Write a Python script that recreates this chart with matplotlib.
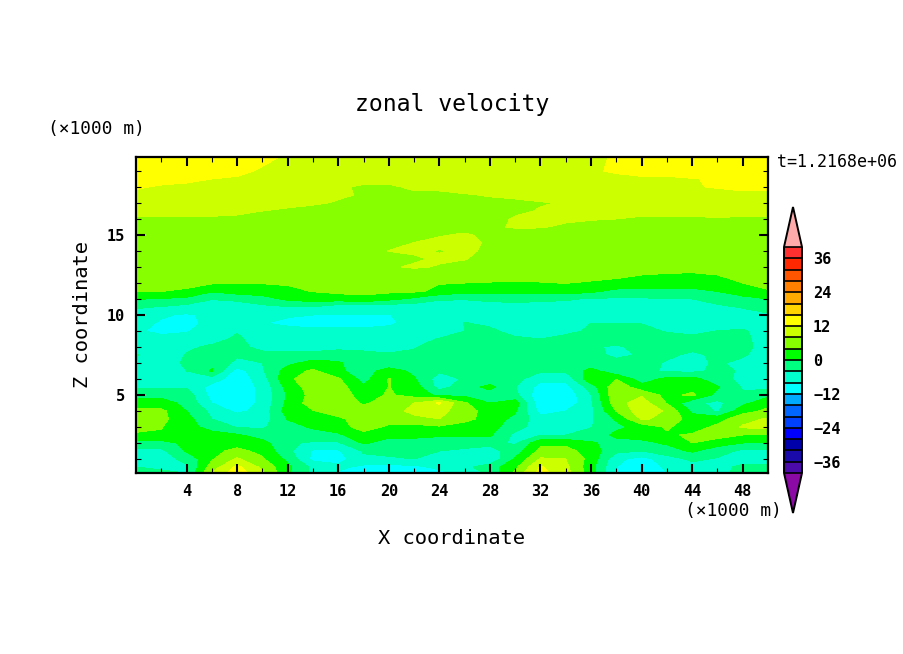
import matplotlib
matplotlib.use("Agg")
import matplotlib.pyplot as plt
from matplotlib.colors import ListedColormap, BoundaryNorm
import numpy as np

plt.rcParams["font.family"] = "DejaVu Sans Mono"

# grid of the field (x, z in 1000 m)
x_km = np.arange(0, 51, 2)
z_km = [0.125, 0.5, 1, 1.5, 2, 2.5, 3, 3.5, 4, 4.5, 5, 5.5, 6, 6.5, 7, 7.5, 8, 8.5, 9, 9.5,
        10, 10.5, 11, 11.5, 12, 12.5, 13, 13.5, 14, 14.5, 15, 15.5, 16, 16.5, 17, 17.5, 18, 18.5, 19, 19.875]

u_rows = [
    [-3, -3.5, -4, 8, 14.5, 8.5, 0.5, -5, -8.5, -10, -10, -10, -9, -7, -3, 5, 13.5, 9.5, 2, -9, -10, -8, -6, -5, -3, -3],
    [-4, -4.5, -4.5, 6, 13, 7, 1, -5, -7, -9, -9.5, -9, -7, -5, -2, 3, 12.5, 9, 1.5, -8, -10, -7.5, -6, -5.5, -3, -3],
    [-5, -5.5, -3, 3.5, 8.5, 4.5, -1, -9, -9.5, -5, -4.5, -4, -6, -6, -7, 0.5, 8.5, 8, 2.5, -7, -9.5, -6, -3, -4.5, -6, -6],
    [-5, -5, 0.5, 3, 5, 3, -3, -8.5, -8.5, -3.5, -3, -3, -4, -5, -5.5, -2, 5, 5.5, 2, -3, -4, -1.5, 0.5, -2, -5, -5],
    [-1.5, -1.5, 1, 2.5, 2.5, 1.5, -3.5, -4.5, -4.5, 0.5, -1.5, -1.5, -2, -2, -3, -4.5, 3, 3, 0.5, -1.5, -1, 0.5, 4, 1.5, 0, 0],
    [3.5, 3.5, 1.5, 1, 0.5, -2, -3, -1.5, -0.5, 2, 1, 1, 0.5, 0.5, 0.5, -5, -4, -4, -2.5, 1, 1.5, 3.5, 4.5, 6, 4, 4],
    [5, 4.2, 1, -1, -4.3, -4.5, -1.5, 0.5, 1.5, 6.5, 3, 2.5, 3.5, 1.5, 1.5, -2.5, -6, -6, -4.2, -1, 1.5, 4.5, 2, 5, 8.5, 9],
    [8, 5, 1.5, -4, -5.5, -6, 0.2, 1.5, 3, 6.5, 6.5, 7, 8, 5.5, 2, -1, -6.5, -6.5, -4.5, 0.5, 8.5, 7, 2, 2.5, 6.5, 8.5],
    [5.5, 5, 0, -5, -9, -6.5, 2, 3.8, 6.5, 5.5, 6.5, 9, 9.5, 5.5, 2.5, 0.5, -9.5, -8, -5, 4.2, 10.5, 7.5, -1, -4.5, 2.5, 5],
    [1.5, 1.5, -1, -8, -10.5, -7, 1, 6, 6.5, 3.5, 5.5, 8, 12.5, 4.5, 0, 2, -11, -11, -4.5, 6.5, 10, 3.8, -3, -5, -1, 2.5],
    [-1, -1, -1.8, -9.5, -10.5, -7, 0.5, 5.5, 6.5, 2, 4.5, 2.5, -1, -1, -2, -3, -11, -11, -4.2, 7.5, 7.5, 2.5, 5, -1.5, -3.5, -1],
    [-4.8, -4.8, -4.5, -9.5, -10.5, -7, 1.5, 6, 6, 0.5, 4.1, 2, -5.5, -2, 1.2, -3.8, -9.5, -9.5, -2, 7, 1.5, 2, 2, 0.5, -4.5, -5],
    [-5.5, -5.5, -4, -6, -10.5, -6, 3.5, 5.5, 4.5, -1.5, 4.2, 0.5, -6, -3.5, -3, -2.5, -7, -7, 3, 3.9, -2, 1, 1.5, -2.5, -5, -6],
    [-5, -5, -4, 0.5, -10, -4.5, 2, 4.7, 0.8, -2, 2, -1, -3.5, -3, -2.5, -2.5, -3.5, -3.5, 1.5, -3, -3, -4.5, -5, -3, -4.5, -5],
    [-4, -5.5, -3.5, -1, -5, -4, -1, 1.5, 0.5, -2.5, -3, -4, -2.8, -2.5, -2.5, -2, -2, -2, -2.5, -2.5, -2, -4.5, -5, -3.5, -5, -6],
    [-3.8, -6, -3.8, -3, -3.5, -3, -2.5, -2.5, -2.2, -3, -3.5, -3.5, -2.5, -2, -2.5, -2.5, -2.5, -2.5, -2.5, -5, -3.5, -3, -5, -3, -3.5, -6],
    [-6, -6.2, -4.5, -3.5, -3, -5, -6, -6, -5, -5, -5.5, -4.2, -3, -2.5, -2.5, -2.5, -2.5, -2.5, -3.5, -4.5, -3, -2.5, -2.5, -2.5, -3, -5.5],
    [-6.5, -7, -7, -5, -3.5, -5.5, -6.5, -6.5, -6.5, -6.5, -6.5, -5.5, -3.7, -3, -3, -3.5, -4, -3, -2.5, -2.5, -2.5, -3, -3, -3, -3.2, -5.5],
    [-7.5, -8.8, -8.2, -7, -4.2, -6.5, -6.5, -7, -7, -7, -7, -6.5, -6.5, -4, -3.5, -5, -5.5, -4.8, -3.5, -3, -3.2, -4.2, -5, -3.9, -3.5, -6],
    [-6.5, -8.5, -9, -7, -7.2, -7.8, -9, -9.5, -9.5, -9.5, -8.5, -7, -6.5, -3.9, -4.5, -6, -6, -5.5, -4, -4, -4.1, -5, -5, -6, -6, -6],
    [-6, -7.5, -8.5, -7, -7, -7, -7.5, -8, -8, -8.2, -8.1, -7, -7, -6.5, -6, -6, -6, -6, -6, -6, -6, -6, -6, -6, -5, -4.2],
    [-3.5, -4.2, -5.5, -6.5, -6.5, -5, -4.2, -4.2, -6.5, -6.5, -6.5, -6.5, -6.5, -6, -6, -6, -6, -6, -6, -6, -6, -6, -6, -4.5, -3.8, -3.4],
    [0.2, -0.3, -1, -3.8, -3, -1.5, 0.8, 2, 2, 3, 1, -1, -3.5, -3.8, -3, -2.5, -3, -3.5, -4.5, -4.5, -4.5, -4.2, -4, -3, -1.5, 0],
    [4.1, 4.1, 3.5, 0.5, 2, 2, 3, 4.2, 5, 5, 5, 4.8, 3, 1.5, 1.5, 1.5, 1.5, 2, 1, -1, -1, -1.2, -1, 0.2, 2.5, 3.8],
    [5, 5, 5, 4.5, 4.2, 4.2, 4.5, 5, 5, 5, 5, 4.5, 4.2, 4, 3.8, 3.6, 3.8, 4.1, 3.5, 3, 2.5, 2, 2, 3, 4, 4.8],
    [5.5] * 19 + [4.8, 4, 3.5, 3.2, 4, 5, 5.5],
    [6] * 10 + [7.5, 8.5, 7.7, 6.5, 6] + [6] * 11,
    [6] * 11 + [7.5, 8.5, 8.2, 6.5] + [6] * 11,
    [6] * 10 + [8.1, 8.5, 7.8, 8.5, 7.5] + [6.5] * 11,
    [6] * 10 + [6.7, 8.1, 9, 9, 7.5] + [6.5] * 11,
    [6] * 11 + [6.5, 7.7, 8.5, 7] + [6.5] * 11,
    [6.5] * 14 + [7.5, 8.3, 8.2, 7.5] + [6.5] * 8,
    [7.5, 7.5, 7.5, 7.5, 7.3, 7, 6.8, 6.5, 6.5, 6.5, 6.5, 6.5, 6.5, 6.5, 7, 8.3, 8.5, 8.5, 8.3, 8, 7.5, 7.5, 7.5, 7.8, 7.5, 7.5],
    [9.5, 9.5, 9, 9, 8.7, 8, 7.5, 7.2, 7, 6.8, 6.5, 6.5, 6.5, 6.5, 7, 7.5, 8.2, 9, 9, 9, 9, 9, 9, 9, 9, 9],
    [10, 10, 9.5, 9.5, 9, 9, 8.8, 8.3, 7.8, 7.5, 7, 7, 7, 7, 7.3, 7.5, 7.8, 8.2, 8.8, 9, 9.5, 10, 10, 10, 10, 10],
    [11, 10.5, 10, 10, 9.5, 9, 8.8, 8.5, 8.3, 7.8, 7.5, 7.5, 7.5, 7.8, 8.2, 8.5, 9, 9.5, 9.5, 10, 10, 10.5, 10.5, 11, 11, 11],
    [12.5, 11.5, 11, 10.5, 10, 9.5, 9, 9, 8.5, 7.5, 7.5, 8.5, 8.5, 9, 9, 9, 9, 9.5, 10, 10.5, 11, 11.5, 11.8, 12.2, 13, 13],
    [14, 13.5, 13, 12, 11.5, 11, 10.5, 10, 9.5, 9, 9, 9, 9, 9, 9, 9, 9.5, 10, 10.5, 11, 11.5, 11.5, 11.8, 12.5, 13, 13.5],
    [15, 14.5, 14, 13.5, 13, 11.5, 11, 10.5, 10.5, 10, 10, 10, 10, 10, 10, 10, 10.5, 11, 11.5, 12.5, 13, 13, 14, 14, 14.5, 15],
    [15, 15, 14, 14, 14, 13, 11.5, 11, 11, 11, 11, 11, 11, 11, 11, 11, 11, 11, 11, 12.5, 14, 14, 14, 15, 15, 15],
]

levels = np.arange(-40, 41, 4)
colors = ["#4b0aaa", "#1a0aaa", "#0000aa", "#0000ff", "#0040ff", "#0066ff", "#00aaff", "#00ffff",
          "#00ffcc", "#00ff80", "#00ff00", "#88ff00", "#ccff00", "#ffff00", "#ffd500", "#ffaa00",
          "#ff8000", "#ff5500", "#ff2800", "#ff3030"]
x_ticks = list(range(4, 49, 4))
z_ticks = [5, 10, 15]
cbar_ticks = [-36, -24, -12, 0, 12, 24, 36]
W, H = 904, 654


def fx(px):
    return px / W


def fy(py):
    return 1 - py / H


fig = plt.figure(figsize=(W / 100, H / 100), dpi=100)
ax = fig.add_axes([fx(136), fy(473), fx(768) - fx(136), fy(157) - fy(473)])

cmap = ListedColormap(colors)
cmap.set_under("#8b0aa5")
cmap.set_over("#ffaaaa")
norm = BoundaryNorm(levels, cmap.N)

u = np.array(u_rows)
cf = ax.contourf(x_km, z_km, u, levels=levels, cmap=cmap, norm=norm, extend="both", antialiased=False)

ax.set_xlim(0, 50)
ax.set_ylim(0.125, 19.875)
ax.set_xticks(x_ticks)
ax.set_xticks(np.arange(2, 50, 4), minor=True)
ax.set_yticks(z_ticks)
ax.set_yticks([z for z in range(1, 20) if z % 5 != 0], minor=True)
ax.tick_params(which="major", direction="in", top=True, right=True, length=6.5, width=1.5, labelsize=11, pad=8)
ax.tick_params(which="minor", direction="in", top=True, right=True, length=3.6, width=0.8)
for lab in ax.get_xticklabels() + ax.get_yticklabels():
    lab.set_fontweight("bold")
for s in ax.spines.values():
    s.set_linewidth(1.6)

fig.text(fx(452), fy(104), "zonal velocity", ha="center", va="center", fontsize=16.7)
fig.text(fx(452), fy(539), "X coordinate", ha="center", va="center", fontsize=14.7)
fig.text(fx(83), fy(315), "Z coordinate", ha="center", va="center", rotation=90, fontsize=14.7)
fig.text(fx(96), fy(129), "(×1000 m)", ha="center", va="center", fontsize=12.9)
fig.text(fx(733), fy(511), "(×1000 m)", ha="center", va="center", fontsize=12.9)
fig.text(fx(777), fy(162), "t=1.2168e+06", ha="left", va="center", fontsize=12)

# the two tips sit outside the 247..473 box, so the colorbar axes covers them too
cax = fig.add_axes([fx(784), fy(513), fx(802) - fx(784), fy(207) - fy(513)])
cb = fig.colorbar(cf, cax=cax, extend="both", extendfrac=40 / 226, drawedges=True, ticks=cbar_ticks)
cb.minorticks_off()
cb.ax.tick_params(length=0, labelsize=11, pad=8)
cb.dividers.set_color("black")
cb.dividers.set_linewidth(1.2)
cb.outline.set_linewidth(1.4)
cb.set_ticklabels([str(t).replace("-", "\u2212") for t in cbar_ticks])
for lab in cb.ax.get_yticklabels():
    lab.set_fontweight("bold")

fig.savefig("out.png", dpi=100)
